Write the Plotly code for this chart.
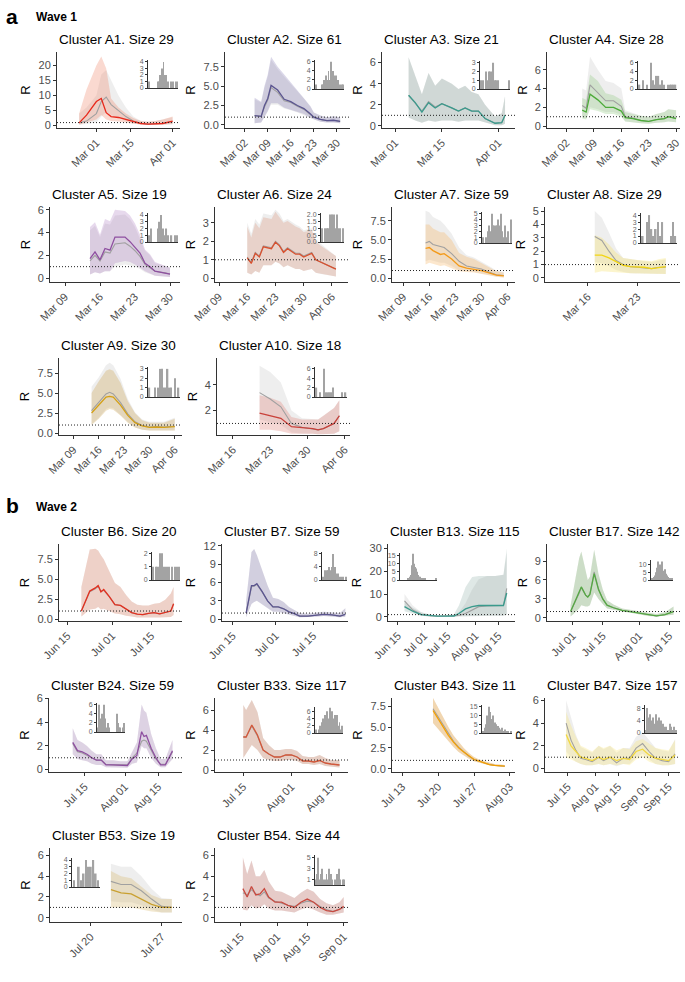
import plotly.graph_objects as go

W, H = 685, 982
YEAR = "2020-"

# ======================= DATA =======================
# ---- Wave 1 ----
A1_days = ["02-23","02-26","03-01","03-03","03-05","03-07","03-10","03-13","03-16","03-19","03-22","03-25","03-28","04-01"]
A1_R   = [0.9,3.5,8.0,9.0,4.3,3.0,2.7,2.0,1.2,0.7,0.5,0.6,0.7,1.5]
A1_lo  = [0.3,1.0,2.0,3.5,2.0,1.5,1.4,1.0,0.6,0.3,0.2,0.2,0.2,0.5]
A1_hi  = [4.0,12.0,20.0,23.0,19.0,9.0,6.0,4.0,2.5,1.5,1.3,1.5,2.0,3.0]
A1_gR  = [0.9,1.5,4.0,8.0,9.5,7.0,5.0,3.0,1.5,0.8,0.5,0.6,0.8,1.3]
A1_glo = [0.3,0.5,1.0,3.0,4.5,3.5,2.5,1.5,0.8,0.3,0.2,0.2,0.2,0.4]
A1_ghi = [4.0,6.0,10.0,17.0,18.5,15.0,10.0,6.0,3.0,1.6,1.3,1.5,2.0,2.8]
A1_hist = [1,0,0,0,0,0,0,0,0,0,1,1,2,1,3,3,4,2,1,2,0,1,0,0,1,0,1,0,0,1,0,1]

A2_days = ["03-05","03-07","03-08","03-09","03-10","03-12","03-14","03-16","03-18","03-20","03-22","03-23","03-25","03-27","03-29","03-31"]
A2_R   = [1.2,1.1,2.5,3.4,5.1,4.5,3.3,3.0,2.5,2.1,1.4,1.0,0.7,0.55,0.6,0.45]
A2_lo  = [0.2,0.3,1.0,1.8,2.8,2.8,2.2,2.0,1.7,1.4,0.9,0.7,0.4,0.3,0.3,0.2]
A2_hi  = [3.5,3.0,5.0,6.5,8.8,7.5,6.5,5.5,4.5,3.5,2.4,1.6,1.2,1.0,1.1,1.0]
A2_gR  = [1.2,1.1,2.3,3.2,4.8,4.2,3.1,2.9,2.4,2.0,1.3,1.0,0.7,0.55,0.6,0.45]
A2_glo = [0.2,0.3,0.9,1.7,2.6,2.6,2.1,1.9,1.6,1.3,0.9,0.7,0.4,0.3,0.3,0.2]
A2_ghi = [3.3,2.9,4.8,6.2,8.4,7.2,6.2,5.3,4.4,3.4,2.3,1.6,1.2,1.0,1.1,1.0]
A2_hist = [1,0,0,0,0,0,1,1,2,1,3,2,4,2,6,6,4,3,2,3,1,2,0,1,0,1,1]

A3_days = ["03-05","03-07","03-09","03-11","03-13","03-15","03-18","03-20","03-22","03-24","03-26","03-28","03-31","04-02","04-03"]
A3_R   = [2.9,2.2,1.3,2.2,1.7,2.1,1.7,1.4,1.7,1.4,1.4,0.7,0.25,0.3,1.0]
A3_lo  = [0.8,0.5,0.3,0.5,0.4,0.5,0.5,0.4,0.5,0.5,0.5,0.3,0.05,0.05,0.2]
A3_hi  = [6.5,4.8,3.0,5.0,3.8,4.5,4.0,3.5,3.8,3.2,3.0,2.0,0.9,1.2,2.8]
A3_gR  = [2.9,2.2,1.4,2.3,1.8,2.1,1.7,1.4,1.7,1.4,1.4,0.7,0.25,0.3,1.0]
A3_hist = [1,1,0,2,1,2,2,2,3,1,1,1,0,0,0,0,0,0,1]

A4_days = ["03-06","03-07","03-08","03-10","03-12","03-14","03-16","03-17","03-19","03-21","03-23","03-25","03-27","03-28","03-30"]
A4_R   = [1.7,1.5,3.4,2.8,2.0,2.0,1.6,0.9,0.8,0.6,0.5,0.7,0.8,1.0,0.8]
A4_lo  = [0.8,0.7,1.8,1.6,1.3,1.3,1.0,0.5,0.4,0.3,0.25,0.35,0.4,0.5,0.4]
A4_hi  = [3.0,2.8,5.5,4.8,3.5,3.3,2.8,1.5,1.3,1.1,1.0,1.3,1.5,1.8,1.7]
A4_gR  = [2.2,1.9,4.4,3.5,2.7,2.7,2.1,1.0,0.85,0.6,0.5,0.7,0.8,1.0,0.85]
A4_glo = [1.0,0.8,2.0,1.8,1.5,1.5,1.2,0.5,0.4,0.3,0.25,0.35,0.4,0.5,0.4]
A4_ghi = [4.0,3.8,7.4,6.0,4.8,4.6,4.0,1.7,1.4,1.1,1.0,1.3,1.5,1.8,1.7]
A4_hist = [1,0,2,0,1,0,6,2,1,3,3,1,2,1,0,1,1,1,1,1]

A5_days = ["03-14","03-15","03-16","03-17","03-18","03-19","03-21","03-22","03-23","03-24","03-25","03-26","03-27","03-29","03-30"]
A5_R   = [1.7,2.3,1.6,2.6,2.45,3.6,3.6,3.2,2.7,2.2,1.3,1.0,0.6,0.45,0.35]
A5_lo  = [0.3,0.5,0.4,0.6,0.6,1.3,1.5,1.4,1.2,0.9,0.6,0.4,0.2,0.15,0.1]
A5_hi  = [4.5,4.9,3.8,5.2,5.0,6.0,5.9,5.5,4.8,3.8,2.5,2.1,1.4,1.1,0.9]
A5_gR  = [1.5,2.0,1.5,2.3,2.2,3.0,3.1,2.8,2.4,1.9,1.2,0.9,0.6,0.45,0.35]
A5_glo = [0.3,0.5,0.4,0.6,0.6,1.0,1.2,1.1,1.0,0.8,0.5,0.35,0.2,0.15,0.1]
A5_ghi = [4.2,4.6,3.6,4.8,4.7,5.5,5.6,5.2,4.5,3.5,2.4,2.0,1.3,1.1,0.9]
A5_hist = [1,2,0,0,0,2,3,4,2,1,2,1,0,1,0,1,1]

A6_days = ["03-16","03-17","03-18","03-19","03-20","03-22","03-23","03-24","03-25","03-26","03-28","03-29","03-30","04-01","04-02","04-03","04-07"]
A6_R   = [1.1,0.8,1.35,1.15,1.7,1.6,1.95,1.75,1.4,1.6,1.3,1.3,1.15,1.35,1.0,0.9,0.5]
A6_lo  = [0.3,0.2,0.4,0.3,0.7,0.7,0.9,0.8,0.6,0.7,0.5,0.5,0.4,0.5,0.3,0.25,0.1]
A6_hi  = [2.8,2.2,3.0,2.7,3.3,3.2,3.6,3.3,3.0,3.1,2.8,2.7,2.5,2.6,2.0,1.8,1.2]
A6_gR  = [1.15,0.85,1.4,1.2,1.75,1.65,2.0,1.8,1.45,1.65,1.35,1.35,1.2,1.4,1.0,0.9,0.5]
A6_ghi = [3.0,2.4,3.2,2.9,3.5,3.4,3.7,3.5,3.1,3.2,2.9,2.8,2.6,2.7,2.1,1.9,1.2]
A6_hist = [1,0,1,1,1,2,1,2,2,1,2,1,1,0,1]

A7_days = ["03-15","03-16","03-17","03-19","03-20","03-22","03-24","03-26","03-28","03-30","04-01","04-03","04-05"]
A7_R   = [3.9,4.0,3.6,3.1,3.2,2.5,1.6,1.3,1.15,1.0,0.7,0.4,0.3]
A7_lo  = [1.8,2.0,1.8,1.6,1.7,1.3,0.9,0.8,0.75,0.6,0.4,0.2,0.1]
A7_hi  = [7.0,7.0,6.5,6.0,6.0,5.0,3.3,2.8,2.5,2.0,1.5,0.9,0.7]
A7_gR  = [4.6,4.8,4.4,4.2,4.0,3.2,2.2,1.6,1.4,1.2,0.8,0.45,0.35]
A7_glo = [2.2,2.4,2.2,2.0,2.0,1.6,1.0,0.9,0.8,0.6,0.4,0.2,0.1]
A7_ghi = [8.8,8.6,8.0,7.5,7.0,5.8,4.0,3.0,2.7,2.2,1.6,1.0,0.8]
A7_hist = [1,0,1,0,2,3,2,5,3,3,3,3,4,3,5,2,1,3,0,1,2,0,4]

A8_days = ["03-17","03-18","03-19","03-20","03-21","03-22","03-23","03-24","03-25","03-26","03-27"]
A8_R   = [1.7,1.7,1.5,1.2,0.95,0.85,0.85,0.8,0.7,0.8,0.85]
A8_lo  = [0.4,0.5,0.5,0.45,0.4,0.35,0.35,0.3,0.3,0.3,0.3]
A8_hi  = [3.2,3.0,2.5,1.9,1.5,1.4,1.35,1.3,1.25,1.4,1.5]
A8_gR  = [3.1,2.8,2.0,1.3,1.0,0.85,0.8,0.75,0.7,0.8,0.8]
A8_glo = [1.2,1.1,0.9,0.6,0.45,0.35,0.35,0.3,0.3,0.3,0.3]
A8_ghi = [5.0,4.5,3.4,2.2,1.5,1.4,1.3,1.25,1.2,1.3,1.4]
A8_hist = [1,0,3,4,2,1,2,3,1,3,0,0,0,1,3,1]

A9_days = ["03-14","03-16","03-18","03-19","03-20","03-22","03-24","03-26","03-28","03-30","04-01","04-03","04-06"]
A9_R   = [2.5,3.5,4.5,4.6,4.5,3.5,2.2,1.3,0.9,0.7,0.75,0.7,0.8]
A9_lo  = [1.0,1.8,2.8,3.0,2.9,2.2,1.3,0.7,0.4,0.3,0.3,0.3,0.3]
A9_hi  = [5.0,6.5,7.8,8.0,7.8,6.3,4.0,2.5,1.6,1.3,1.3,1.3,1.8]
A9_gR  = [2.8,3.9,4.9,5.1,4.9,3.8,2.4,1.4,0.95,0.75,0.8,0.75,0.85]
A9_glo = [1.1,1.9,3.0,3.2,3.1,2.3,1.4,0.7,0.4,0.3,0.3,0.3,0.3]
A9_ghi = [5.8,7.0,8.5,8.8,8.5,6.8,4.3,2.6,1.7,1.4,1.4,1.4,1.9]
A9_hist = [1,0,0,1,0,1,3,3,1,1,3,1,1,0,2,0,1]

A10_days = ["03-21","03-23","03-25","03-27","03-29","03-31","04-01","04-02","04-04","04-05"]
A10_R   = [1.8,1.6,1.4,0.75,0.7,0.6,0.5,0.6,1.0,1.6]
A10_lo  = [0.5,0.5,0.4,0.2,0.2,0.2,0.15,0.15,0.2,0.4]
A10_hi  = [3.2,3.0,2.7,1.5,1.3,1.3,1.3,1.6,2.2,2.8]
A10_gR  = [3.4,2.9,2.3,1.0,0.7,0.6,0.5,0.6,1.0,1.6]
A10_glo = [1.3,1.1,0.9,0.3,0.2,0.2,0.15,0.15,0.2,0.4]
A10_ghi = [5.5,5.0,4.2,2.0,1.4,1.3,1.3,1.6,2.2,2.8]
A10_hist = [2,0,1,0,6,1,1,1,1,2,0,0,0,0,1,0,1]

# ---- Wave 2 ----
B6_days = ["06-20","06-23","06-25","06-26","06-27","06-28","06-30","07-02","07-04","07-06","07-08","07-10","07-12","07-14","07-16","07-18","07-20","07-22","07-23"]
B6_R   = [1.0,3.5,3.9,4.2,3.4,3.7,2.8,1.8,1.7,1.2,0.8,0.6,0.55,0.7,0.8,0.65,0.85,1.0,1.9]
B6_lo  = [0.3,1.2,1.3,1.5,1.2,1.3,1.0,0.7,0.6,0.4,0.3,0.2,0.2,0.2,0.2,0.2,0.2,0.25,0.5]
B6_hi  = [4.0,8.7,8.8,8.6,8.0,7.5,6.0,4.5,4.0,3.0,2.2,1.8,1.7,1.7,1.9,2.0,2.4,3.2,4.0]
B6_gR  = [1.0,3.4,3.8,4.1,3.5,3.6,2.8,1.8,1.7,1.2,0.8,0.6,0.55,0.7,0.8,0.65,0.85,1.0,1.9]
B6_hist = [1,0,1,1,1,2,2,1,1,0,1,1,0,1,0,1,0,1,1]

B7_days = ["06-20","06-22","06-23","06-24","06-26","06-28","06-30","07-02","07-04","07-06","07-08","07-10","07-13","07-16","07-19","07-22","07-25","07-27"]
B7_R   = [1.0,5.5,5.5,5.8,4.5,3.0,2.0,2.0,1.7,1.2,0.9,0.5,0.5,0.7,0.8,0.7,0.5,0.8]
B7_lo  = [0.3,2.5,2.8,3.0,2.5,1.8,1.2,1.2,1.0,0.7,0.5,0.3,0.3,0.4,0.5,0.4,0.3,0.4]
B7_hi  = [3.0,11.0,11.5,10.5,8.0,5.5,3.5,3.3,2.8,2.0,1.5,1.0,0.9,1.1,1.2,1.1,1.0,1.8]
B7_gR  = [1.0,5.3,5.4,5.7,4.4,3.0,2.0,2.0,1.7,1.2,0.9,0.5,0.5,0.7,0.8,0.7,0.5,0.8]
B7_hist = [1,0,3,2,3,3,4,2,3,4,8,3,4,2,1,2,1,0,1,0,1,0,0,1]

B13_days = ["06-19","06-24","06-29","07-04","07-09","07-14","07-19","07-22","07-26","07-30","08-03","08-08","08-13","08-18","08-20"]
B13_R   = [4.5,2.5,1.0,0.5,0.3,0.3,0.4,1.5,3.5,4.5,5.0,5.0,5.0,5.0,10.5]
B13_lo  = [2.5,1.5,0.5,0.2,0.1,0.1,0.1,0.3,0.4,0.5,0.5,0.5,0.5,0.5,1.0]
B13_hi  = [6.5,4.0,2.0,1.0,0.7,0.7,1.2,5.0,13.0,17.5,18.0,18.0,18.0,18.5,30.0]
B13_gR  = [7.0,3.0,1.2,0.5,0.3,0.3,0.3,0.6,1.5,3.0,4.5,4.8,5.0,5.0,12.5]
B13_glo = [4.0,2.0,0.6,0.2,0.1,0.1,0.1,0.2,0.3,0.4,0.5,0.5,0.5,0.5,1.2]
B13_ghi = [10.0,5.0,2.2,1.0,0.7,0.7,0.9,2.0,6.0,12.0,16.5,18.0,18.0,18.5,28.0]
B13_hist = [0,0,0,0,0,0,0,0,1,1,2,3,6,9,16,10,8,7,5,4,3,2,2,1,1,1,0,1,0,0,0,0,0,0,0,0,0,0,0,0,1]

B17_days = ["06-30","07-02","07-04","07-05","07-07","07-08","07-09","07-11","07-13","07-15","07-17","07-20","07-24","07-28","08-01","08-05","08-09","08-13","08-17"]
B17_R   = [1.0,2.5,4.0,4.9,3.6,3.3,3.7,7.0,4.5,3.0,2.0,1.6,1.2,1.0,0.8,0.5,0.3,0.5,1.0]
B17_lo  = [0.2,0.8,1.5,2.0,1.8,1.8,2.0,4.0,3.0,2.2,1.5,1.3,1.0,0.8,0.6,0.3,0.2,0.3,0.5]
B17_hi  = [2.0,6.0,9.5,10.5,7.5,6.0,6.5,10.8,7.0,4.5,2.8,2.1,1.5,1.3,1.1,0.8,0.6,0.9,1.8]
B17_gR  = [1.0,2.4,3.9,4.8,3.6,3.3,3.8,7.3,4.6,3.0,2.0,1.6,1.2,1.0,0.8,0.5,0.3,0.5,1.0]
B17_hist = [1,0,2,3,5,8,12,6,10,8,12,6,5,7,4,3,2,1,1,0,1]

B24_days = ["07-10","07-12","07-14","07-16","07-18","07-20","07-22","07-24","07-27","07-30","08-02","08-04","08-06","08-08","08-09","08-10","08-12","08-14","08-16","08-18","08-21"]
B24_R   = [2.3,1.6,1.5,1.3,1.0,0.8,0.8,0.4,0.4,0.35,0.35,0.9,1.2,3.2,2.8,2.9,1.8,1.0,0.4,0.4,1.6]
B24_lo  = [1.3,0.9,0.8,0.7,0.5,0.4,0.4,0.2,0.2,0.15,0.15,0.5,0.6,2.0,1.8,1.8,1.0,0.5,0.2,0.2,0.9]
B24_hi  = [3.5,2.5,2.3,2.0,1.6,1.3,1.3,0.8,0.8,0.7,0.7,1.5,2.3,5.5,5.0,4.8,3.0,1.8,0.9,0.9,2.5]
B24_gR  = [2.2,1.5,1.4,1.2,1.0,0.8,0.8,0.45,0.4,0.4,0.4,1.0,1.4,2.4,2.5,2.4,1.6,0.9,0.45,0.45,1.5]
B24_hist = [1,6,3,4,2,6,3,1,2,1,0,0,0,0,0,4,2,1,1,0,1,2]

B33_days = ["07-15","07-16","07-18","07-20","07-22","07-24","07-26","07-28","07-30","08-01","08-03","08-05","08-07","08-09","08-11","08-13","08-15","08-18"]
B33_R   = [3.3,3.3,4.5,3.5,2.0,1.6,1.3,1.3,1.5,1.5,1.3,0.9,0.9,0.8,0.95,0.7,0.6,0.5]
B33_lo  = [1.2,1.6,2.5,2.0,1.2,1.0,0.9,0.9,1.0,1.0,0.9,0.6,0.6,0.5,0.6,0.4,0.3,0.25]
B33_hi  = [6.5,6.0,7.0,5.8,3.2,2.5,2.0,2.0,2.1,2.1,1.9,1.4,1.3,1.3,1.5,1.2,1.0,1.0]
B33_gR  = [3.3,3.3,4.4,3.4,2.0,1.6,1.3,1.3,1.5,1.5,1.3,0.9,0.9,0.8,0.95,0.7,0.6,0.5]
B33_hist = [1,0,1,2,1,3,4,5,3,6,4,7,5,6,4,5,3,5,2,3,1,2]

B43_days = ["07-19","07-20","07-21","07-22","07-23","07-24","07-25","07-26","07-27","07-28","07-29","07-30","07-31","08-01","08-02"]
B43_R   = [7.0,6.0,5.0,4.0,3.2,2.5,2.0,1.5,1.1,0.9,0.7,0.5,0.4,0.35,0.3]
B43_lo  = [5.5,4.8,4.0,3.3,2.6,2.0,1.6,1.2,0.9,0.7,0.55,0.4,0.3,0.25,0.2]
B43_hi  = [8.5,7.3,6.2,5.0,4.0,3.2,2.5,1.9,1.4,1.1,0.9,0.7,0.55,0.5,0.45]
B43_gR  = [7.2,6.2,5.2,4.2,3.3,2.6,2.0,1.5,1.1,0.9,0.7,0.5,0.4,0.35,0.3]
B43_hist = [1,3,5,10,15,12,8,10,6,5,4,3,2,3,1,2,1,1,0,1]

B47_days = ["07-14","07-17","07-20","07-23","07-26","07-30","08-03","08-06","08-10","08-14","08-18","08-22","08-26","08-30","09-03","09-07","09-11","09-15","09-19"]
B47_R   = [3.0,2.0,1.5,1.0,0.9,0.7,1.0,0.8,1.0,0.7,0.9,0.8,1.5,1.7,1.2,0.9,0.8,0.7,1.2]
B47_lo  = [1.0,0.8,0.6,0.4,0.3,0.3,0.4,0.3,0.4,0.3,0.4,0.3,0.8,1.0,0.6,0.4,0.3,0.3,0.4]
B47_hi  = [5.0,3.8,2.8,2.0,1.8,1.5,2.0,1.8,2.0,1.6,1.8,1.7,2.4,2.6,2.2,1.8,1.7,1.6,2.5]
B47_gR  = [4.0,2.5,1.6,0.9,0.8,0.6,1.0,0.7,1.0,0.5,0.9,0.9,1.8,2.2,1.5,0.9,0.7,0.6,1.3]
B47_glo = [1.5,1.0,0.6,0.4,0.3,0.3,0.4,0.3,0.4,0.2,0.4,0.4,1.0,1.3,0.8,0.4,0.3,0.3,0.4]
B47_ghi = [6.0,4.5,3.0,1.9,1.7,1.4,2.0,1.7,2.0,1.4,1.8,1.8,2.8,3.2,2.5,1.8,1.6,1.5,2.6]
B47_hist = [1,8,5,3,6,4,2,5,3,2,6,4,3,5,2,4,1,3,2,1,2,1,0,1,3,2,1,1,2,0,1]

B53_days = ["07-22","07-23","07-24","07-25","07-26","07-27","07-28"]
B53_R   = [2.7,2.4,2.3,1.8,1.3,1.0,1.0]
B53_lo  = [1.0,1.0,1.0,0.8,0.6,0.5,0.5]
B53_hi  = [4.5,4.0,3.8,3.0,2.2,1.8,1.8]
B53_gR  = [3.5,3.2,3.2,2.6,1.8,1.1,1.0]
B53_glo = [1.6,1.5,1.5,1.2,0.8,0.5,0.5]
B53_ghi = [5.2,4.9,4.9,4.0,2.8,1.9,1.8]
B53_hist = [1,0,3,1,2,4,3,3,4,2,1]

B54_days = ["07-16","07-18","07-20","07-22","07-24","07-26","07-28","07-31","08-03","08-06","08-09","08-12","08-15","08-18","08-21","08-24","08-27","08-30","09-01"]
B54_R   = [2.8,2.0,3.0,2.2,2.3,2.8,2.0,1.5,1.5,1.2,1.0,1.5,1.8,1.5,1.0,0.7,0.6,0.8,1.1]
B54_lo  = [0.8,0.7,1.2,0.9,1.0,1.3,0.9,0.7,0.7,0.6,0.5,0.8,1.0,0.8,0.5,0.3,0.3,0.4,0.5]
B54_hi  = [5.8,4.2,5.5,4.0,4.0,4.6,3.5,2.6,2.5,2.2,1.9,2.4,2.8,2.5,1.8,1.4,1.2,1.5,2.0]
B54_gR  = [2.4,2.2,2.7,2.3,2.1,2.5,1.9,1.6,1.4,1.2,1.1,1.4,1.6,1.5,1.1,0.8,0.6,0.8,1.0]
B54_hist = [1,2,5,1,2,3,1,0,1,2,1,3,1,2,1,0,1,0,2,1,3,1,0,1,1]

# tick labels (dates) and values
A1_xt = ["03-01","03-15","04-01"];             A1_yt = [0,5,10,15,20];   A1_ht = [0,1,2,3,4]
A2_xt = ["03-02","03-09","03-16","03-23","03-30"]; A2_yt = [0,2.5,5,7.5]; A2_ht = [0,2,4,6]
A3_xt = ["03-01","03-15","04-01"];             A3_yt = [0,2,4,6];        A3_ht = [0,1,2,3]
A4_xt = ["03-02","03-09","03-16","03-23","03-30"]; A4_yt = [0,2,4,6];    A4_ht = [0,2,4,6]
A5_xt = ["03-09","03-16","03-23","03-30"];     A5_yt = [0,2,4,6];        A5_ht = [0,1,2,3,4]
A6_xt = ["03-09","03-16","03-23","03-30","04-06"]; A6_yt = [0,1,2,3];    A6_ht = [0,0.5,1,1.5,2]
A7_xt = ["03-09","03-16","03-23","03-30","04-06"]; A7_yt = [0,2.5,5,7.5]; A7_ht = [0,1,2,3,4,5]
A8_xt = ["03-16","03-23"];                     A8_yt = [0,1,2,3,4,5];    A8_ht = [0,1,2,3,4]
A9_xt = ["03-09","03-16","03-23","03-30","04-06"]; A9_yt = [0,2.5,5,7.5]; A9_ht = [0,1,2,3]
A10_xt = ["03-16","03-23","03-30","04-06"];    A10_yt = [2,4];           A10_ht = [0,2,4,6]
B6_xt = ["06-15","07-01","07-15"];             B6_yt = [0,2.5,5,7.5];    B6_ht = [0,1,2]
B7_xt = ["06-15","07-01","07-15"];             B7_yt = [0,3,6,9,12];     B7_ht = [0,4,8]
B13_xt = ["06-15","07-01","07-15","08-01","08-15"]; B13_yt = [0,10,20,30]; B13_ht = [0,5,10,15]
B17_xt = ["07-01","07-15","08-01","08-15"];    B17_yt = [0,3,6,9];       B17_ht = [0,5,10]
B24_xt = ["07-15","08-01","08-15"];            B24_yt = [0,2,4,6];       B24_ht = [0,2,4,6]
B33_xt = ["07-15","08-01","08-15"];            B33_yt = [0,2,4,6];       B33_ht = [0,2,4,6]
B43_xt = ["07-13","07-20","07-27","08-03"];    B43_yt = [0,2.5,5,7.5];   B43_ht = [0,5,10,15]
B47_xt = ["07-15","08-01","08-15","09-01","09-15"]; B47_yt = [0,2,4,6];  B47_ht = [0,4,8]
B53_xt = ["07-20","07-27"];                    B53_yt = [0,2,4,6];       B53_ht = [0,1,2,3,4]
B54_xt = ["07-15","08-01","08-15","09-01"];    B54_yt = [0,2,4,6];       B54_ht = [1,3,5]

# ======================= STYLE / LAYOUT =======================
# key, title, panel box (l,r,t,b px), inset box, x range, y range, y fmt, inset ymax, inset fmt, line colour, band colour
PANELS = [
 ("A1","Cluster A1. Size 29",(57,180,52,128),(148,178,60,88),("02-14","04-04"),(-0.8,24.5),"",4.3,"","#e8291c","rgba(240,130,100,0.30)"),
 ("A2","Cluster A2. Size 61",(225,350,52,128),(315,344,60,89),("02-25","04-03"),(-0.4,9.4),".1f",6.4,"","#5b5590","rgba(125,115,175,0.28)"),
 ("A3","Cluster A3. Size 21",(382,515,52,128),(480,510,61,89),("02-26","04-06"),(-0.2,7.0),"",3.2,"","#3a9a8c","rgba(105,140,132,0.22)"),
 ("A4","Cluster A4. Size 28",(547,680,52,128),(638,677,61,89),("02-26","03-31"),(-0.2,7.9),"",6.4,"","#4dab3a","rgba(120,190,100,0.25)"),
 ("A5","Cluster A5. Size 19",(50,180,207,282),(148,178,213,242),("03-06","04-01"),(-0.35,6.25),"",4.3,"","#8e4fa0","rgba(170,120,190,0.28)"),
 ("A6","Cluster A6. Size 24",(215,348,207,282),(321,344,213,242),("03-08","04-10"),(-0.2,3.85),"",2.1,".1f","#d9502e","rgba(215,130,100,0.26)"),
 ("A7","Cluster A7. Size 59",(392,515,207,282),(482,512,212,243),("03-06","04-08"),(-0.5,9.3),".1f",5.3,"","#f39a1a","rgba(245,180,100,0.32)"),
 ("A8","Cluster A8. Size 29",(545,680,207,282),(641,677,213,243),("03-10","03-29"),(-0.3,5.3),"",4.3,"","#f2d513","rgba(245,225,100,0.32)"),
 ("A9","Cluster A9. Size 30",(59,182,358,435),(148,180,367,397),("03-05","04-08"),(-0.25,9.4),".1f",3.2,"","#d4a017","rgba(205,165,85,0.32)"),
 ("A10","Cluster A10. Size 18",(217,350,358,435),(315,347,367,397),("03-13","04-07"),(0.1,6.1),"",6.4,"","#c9413a","rgba(225,130,120,0.32)"),
 ("B6","Cluster B6. Size 20",(59,182,544,621),(152,180,552,580),("06-12","07-26"),(-0.25,9.4),".1f",2.1,"","#e3301f","rgba(240,150,120,0.32)"),
 ("B7","Cluster B7. Size 59",(222,348,544,621),(322,347,552,580),("06-11","07-28"),(-0.3,12.3),"",8.6,"","#5b5590","rgba(140,130,185,0.28)"),
 ("B13","Cluster B13. Size 115",(388,515,544,621),(400,437,553,580),("06-09","08-25"),(-1.8,32),"",16.5,"","#3a9a8c","rgba(110,150,140,0.22)"),
 ("B17","Cluster B17. Size 142",(547,680,544,621),(651,673,560,580),("06-19","08-20"),(-0.5,11.7),"",13.0,"","#55a843","rgba(120,180,100,0.28)"),
 ("B24","Cluster B24. Size 59",(49,182,698,772),(97,125,703,732),("06-30","08-25"),(-0.2,6.05),"",6.4,"","#8e4fa0","rgba(180,140,200,0.28)"),
 ("B33","Cluster B33. Size 117",(215,348,698,772),(315,343,707,733),("07-05","08-21"),(-0.2,7.2),"",7.2,"","#d4583a","rgba(215,140,110,0.32)"),
 ("B43","Cluster B43. Size 11",(392,515,698,772),(482,512,705,733),("07-11","08-04"),(-0.4,8.5),".1f",16.0,"","#f5a000","rgba(245,170,60,0.35)"),
 ("B47","Cluster B47. Size 157",(545,680,698,772),(645,677,705,733),("07-01","09-22"),(-0.3,6.2),"",9.0,"","#f2d840","rgba(250,230,120,0.32)"),
 ("B53","Cluster B53. Size 19",(50,182,848,922),(72,100,858,887),("07-16","07-29"),(-0.4,6.7),"",4.3,"","#c9a030","rgba(215,185,110,0.32)"),
 ("B54","Cluster B54. Size 44",(215,348,848,922),(315,345,855,885),("07-03","09-03"),(-0.4,6.7),"",5.5,"","#c84a40","rgba(215,130,120,0.32)"),
]

GRAY_LINE = "#a0a0a0"
GRAY_BAND = "rgba(195,195,195,0.28)"
AX = "#333333"
TXT = "#4d4d4d"
FONT = "Liberation Sans, Arial, sans-serif"

G = globals()
fig = go.Figure()
layout = dict(width=W, height=H, autosize=False, margin=dict(l=0, r=0, t=0, b=0, pad=0),
              paper_bgcolor="white", plot_bgcolor="white", showlegend=False,
              font=dict(family=FONT), bargap=0.25)
shapes, annotations = [], []

def xd(l, r):
    return [l / W, r / W]

def yd(t, b):
    return [1 - b / H, 1 - t / H]

for i, (key, title, box, ibox, xr, yr, yfmt, hmax, hfmt, col, band) in enumerate(PANELS):
    m, n = 2 * i + 1, 2 * i + 2
    xm = "x" if m == 1 else f"x{m}"
    ym = "y" if m == 1 else f"y{m}"
    xi, yi = f"x{n}", f"y{n}"
    dates = [YEAR + d for d in G[key + "_days"]]
    R, lo, hi = G[key + "_R"], G[key + "_lo"], G[key + "_hi"]
    gR = G.get(key + "_gR", R)
    glo = G.get(key + "_glo", lo)
    ghi = G.get(key + "_ghi", hi)
    hist = G[key + "_hist"]

    fig.add_trace(go.Scatter(x=dates + dates[::-1], y=ghi + glo[::-1], fill="toself",
                             fillcolor=GRAY_BAND, line=dict(width=0), mode="lines",
                             xaxis=xm, yaxis=ym, hoverinfo="skip"))
    fig.add_trace(go.Scatter(x=dates + dates[::-1], y=hi + lo[::-1], fill="toself",
                             fillcolor=band, line=dict(width=0), mode="lines",
                             xaxis=xm, yaxis=ym, hoverinfo="skip"))
    fig.add_trace(go.Scatter(x=dates, y=gR, mode="lines", line=dict(color=GRAY_LINE, width=1.1),
                             xaxis=xm, yaxis=ym))
    fig.add_trace(go.Scatter(x=dates, y=R, mode="lines", line=dict(color=col, width=1.3),
                             xaxis=xm, yaxis=ym))
    fig.add_trace(go.Bar(x=list(range(len(hist))), y=hist, marker=dict(color="#a3a3a3", line=dict(width=0)),
                         xaxis=xi, yaxis=yi))

    l, r, t, b = box
    layout["xaxis" if m == 1 else f"xaxis{m}"] = dict(
        domain=xd(l, r), anchor=ym, type="date", automargin=False,
        range=[YEAR + xr[0], YEAR + xr[1]],
        tickvals=[YEAR + d for d in G[key + "_xt"]], tickformat="%b %d",
        tickangle=-45, tickfont=dict(size=11, color=TXT),
        showline=True, linecolor=AX, linewidth=1, ticks="outside", ticklen=3,
        tickcolor=AX, showgrid=False, zeroline=False)
    layout["yaxis" if m == 1 else f"yaxis{m}"] = dict(
        domain=yd(t, b), anchor=xm, range=list(yr), automargin=False,
        tickvals=G[key + "_yt"], tickformat=yfmt,
        tickfont=dict(size=11, color=TXT),
        showline=True, linecolor=AX, linewidth=1, ticks="outside", ticklen=3,
        tickcolor=AX, showgrid=False, zeroline=False,
        title=dict(text="R", font=dict(size=13, color="black"), standoff=4))
    il, ir, it, ib = ibox
    layout[f"xaxis{n}"] = dict(domain=xd(il, ir), anchor=yi, range=[-0.8, len(hist) - 0.2],
                               automargin=False,
                               showline=True, linecolor=AX, linewidth=1, showticklabels=False,
                               ticks="", showgrid=False, zeroline=False)
    layout[f"yaxis{n}"] = dict(domain=yd(it, ib), anchor=xi, range=[0, hmax], automargin=False,
                               tickvals=G[key + "_ht"], tickformat=hfmt,
                               tickfont=dict(size=7, color="#666666"),
                               showline=True, linecolor=AX, linewidth=1,
                               ticks="outside", ticklen=2, tickcolor=AX,
                               showgrid=False, zeroline=False)

    shapes.append(dict(type="line", xref=f"{xm} domain", yref=ym, x0=0, x1=1, y0=1, y1=1,
                       line=dict(color="#222222", width=1, dash="1px,2px")))
    annotations.append(dict(text=title, xref="paper", yref="paper", x=l / W, y=1 - (t - 13) / H,
                            xanchor="left", yanchor="middle", showarrow=False,
                            font=dict(size=13.5, color="black")))

for lab, wave, ypx in [("a", "Wave 1", 16), ("b", "Wave 2", 506)]:
    annotations.append(dict(text=f"<b>{lab}</b>", xref="paper", yref="paper", x=4 / W, y=1 - ypx / H,
                            xanchor="left", yanchor="middle", showarrow=False,
                            font=dict(size=21, color="black")))
    annotations.append(dict(text=f"<b>{wave}</b>", xref="paper", yref="paper", x=34 / W, y=1 - (ypx + 1) / H,
                            xanchor="left", yanchor="middle", showarrow=False,
                            font=dict(size=12, color="black")))

layout["shapes"] = shapes
layout["annotations"] = annotations
fig.update_layout(**layout)
fig.write_html("out.html", config={"displayModeBar": False},
               post_script="document.body.style.margin='0px';document.body.style.overflow='hidden';")
